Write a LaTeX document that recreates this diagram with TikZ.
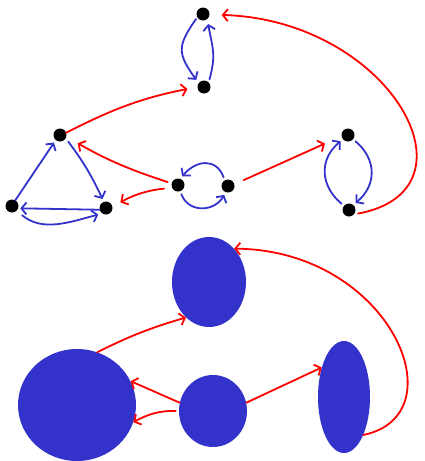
\documentclass[tikz,border=0pt]{standalone}
\usepackage{tikz}
\usetikzlibrary{arrows.meta, shapes.geometric}
\definecolor{sccblue}{RGB}{51,51,204}

\begin{document}
\begin{tikzpicture}[
    x=1pt, y=-1pt,
    vert/.style={circle, fill=black, inner sep=0pt, minimum size=13pt},
    comp/.style={ellipse, fill=sccblue, inner sep=0pt},
    intra/.style={-{Straight Barb[length=5pt, width=12pt]}, sccblue, line width=1.8pt, line cap=round},
    inter/.style={-{Straight Barb[length=5pt, width=12pt]}, red, line width=1.8pt, line cap=round}
]
\useasboundingbox (0,0) rectangle (425,461);


\node[vert] (v1) at (203,14) {};
\node[vert] (v2) at (204,87) {};
\node[vert] (v3) at (60,135) {};
\node[vert] (v4) at (12,206) {};
\node[vert] (v5) at (106,208) {};
\node[vert] (v6) at (178,185) {};
\node[vert] (v7) at (228,186) {};
\node[vert] (v8) at (348,135) {};
\node[vert] (v9) at (349,210) {};

\draw[intra, shorten <=2pt, shorten >=4pt] (v1.210) to[out=235, in=125, looseness=1.4] (v2.145);
\draw[intra, shorten <=3pt, shorten >=5pt] (v2.45) to[out=75, in=280, looseness=1.2] (v1.310);
\draw[intra, shorten <=4pt, shorten >=3pt] (v3.330) to[bend left=6] (v5.110);
\draw[intra, shorten >=3pt] (v4.60) -- (v3.230);
\draw[intra, shorten >=2pt] (v5.195) -- (v4.340);
\draw[intra, shorten <=7pt, shorten >=4pt] (v4.315) to[out=-40, in=195] (v5.235);
\draw[intra, shorten <=3pt, shorten >=3pt] (v7.120) to[out=110, in=50, looseness=1.4] (v6.70);
\draw[intra, shorten <=3pt, shorten >=3pt] (v6.290) to[out=290, in=240, looseness=1.3] (v7.250);
\draw[intra, shorten <=3pt, shorten >=3pt] (v8.320) to[out=320, in=40, looseness=1.2] (v9.50);
\draw[intra, shorten <=3pt, shorten >=3pt] (v9.140) to[out=140, in=220, looseness=1.2] (v8.220);

\draw[inter, shorten >=10pt] (v3.20) to[bend left=8] (v2.180);
\draw[inter, shorten <=4pt, shorten >=13pt] (v6.165) to[bend left=6] (v3.345);
\draw[inter, shorten <=8pt, shorten >=9pt] (v6.205) to[bend right=12] (v5.10);
\draw[inter, shorten <=10pt, shorten >=18pt] (v7.15) -- (v8.190);
\draw[inter, shorten <=4pt, shorten >=12pt] (v9.320) .. controls (485,190) and (390,20) .. (v1.355);


\node[comp, minimum width=74pt, minimum height=90pt] (C1) at (209,282) {};
\node[comp, minimum width=118pt, minimum height=112pt] (C2) at (77,405) {};
\node[comp, minimum width=68pt, minimum height=72pt] (C3) at (213,411) {};
\node[comp, minimum width=52pt, minimum height=112pt] (C4) at (344,397) {};

\draw[inter] (C2.69) to[bend left=5] (C1.237);
\draw[inter] (C3.166) -- (C2.24);
\draw[inter, shorten <=3pt] (C3.180) to[bend right=15] (C2.343);
\draw[inter] (C3.14) -- (C4.127);
\draw[inter] (C4.297) .. controls (460,415) and (390,250) .. (C1.53);

\end{tikzpicture}
\end{document}
